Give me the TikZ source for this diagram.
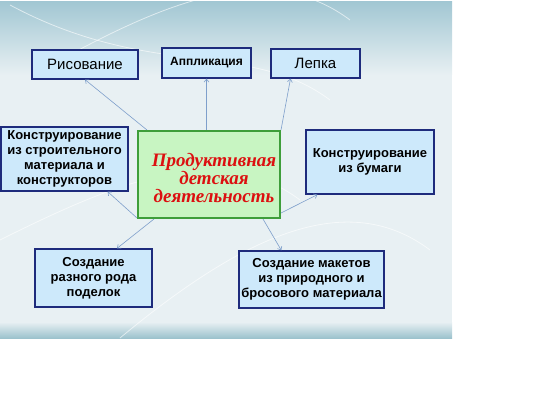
\documentclass[tikz,border=0pt]{standalone}
\usepackage{fontspec}
\setmainfont{Liberation Sans}
\newfontfamily\titlefont{Liberation Serif}
\usetikzlibrary{arrows.meta}
\definecolor{cardfill}{HTML}{CDE9FB}
\definecolor{cardline}{HTML}{1E2B7C}
\definecolor{corefill}{HTML}{C8F5C2}
\definecolor{coreline}{HTML}{3E9E3A}
\definecolor{corered}{HTML}{DC1010}
\definecolor{linkcol}{HTML}{7E9FCB}
\definecolor{bgtop}{HTML}{A2C7D3}
\definecolor{bgmid}{HTML}{E8F0F3}
\definecolor{bgband}{HTML}{9CC2CD}
\begin{document}
\begin{tikzpicture}[x=1pt, y=-1pt,
  card/.style={draw=cardline, fill=cardfill, line width=1.3pt, align=center, inner sep=0pt,
    font=\bfseries\fontsize{13}{15}\selectfont},
  core/.style={draw=coreline, fill=corefill, line width=2pt},
  coretext/.style={align=center, inner sep=0pt,
    font=\titlefont\bfseries\itshape\fontsize{19}{18}\selectfont, text=corered},
  link/.style={draw=linkcol, line width=0.6pt, -{Straight Barb[length=3pt,width=5pt]}}]
  \useasboundingbox (0,0) rectangle (557,417);
  % background of the slide
  \fill[bgmid] (0,2) rectangle (452,338);
  \shade[top color=bgtop, bottom color=bgmid] (0,2) rectangle (452,75);
  \shade[top color=bgmid, bottom color=bgband] (0,322) rectangle (452,338);
  \foreach \a/\b/\c/\d in {10/5/150/80/260/0/350/50, 60/60/170/0/300/90/452/30,
      0/240/120/180/250/330/452/260, 120/338/250/230/380/300/452/200}
    \draw[white, opacity=0.6, line width=0.8pt] (\a,\b) .. controls (\c,\d) and (\c+100,\d-40) .. (\c+180,\d+20);
  % boxes
  \node[card, minimum width=106pt, minimum height=29pt, font=\fontsize{15}{16}\selectfont] (ris) at (85,64.5) {Рисование};
  \node[card, minimum width=89pt, minimum height=30pt, font=\bfseries\fontsize{12}{13}\selectfont] (appl) at (206.5,63) {Аппликация};
  \node[card, minimum width=89pt, minimum height=29pt, font=\fontsize{15}{16}\selectfont] (lep) at (315.5,63.5) {Лепка};
  \node[card, minimum width=127pt, minimum height=64pt] (stroi) at (64.5,159) {Конструирование\\из строительного\\материала и\\конструкторов};
  \node[core, minimum width=142pt, minimum height=87pt] (cen) at (209,174.5) {};
  \node[coretext] (centxt) at ([xshift=5pt,yshift=-4pt]cen.center) {Продуктивная\\детская\\деятельность};
  \node[card, minimum width=128pt, minimum height=64pt] (bum) at (370,162) {Конструирование\\из бумаги};
  \node[card, minimum width=117pt, minimum height=58pt] (podel) at (93.5,278) {Создание\\разного рода\\поделок};
  \node[card, minimum width=145pt, minimum height=57pt] (maket) at (311.5,279.5) {Создание макетов\\из природного и\\бросового материала};
  % connectors
  \draw[link] ([xshift=10pt]cen.north west) -- (ris.south);
  \draw[link] (appl.south |- cen.north) -- (appl.south);
  \draw[link] (cen.north east) -- ([xshift=-25pt]lep.south);
  \draw[link] ([yshift=1pt]cen.south west) -- ([xshift=-21pt]stroi.south east);
  \draw[link] ([yshift=6pt]cen.south east) -- ([xshift=12pt]bum.south west);
  \draw[link] ([xshift=17pt]cen.south west) -- ([xshift=23.5pt]podel.north);
  \draw[link] ([xshift=-18pt]cen.south east) -- ([xshift=43pt]maket.north west);
\end{tikzpicture}
\end{document}
